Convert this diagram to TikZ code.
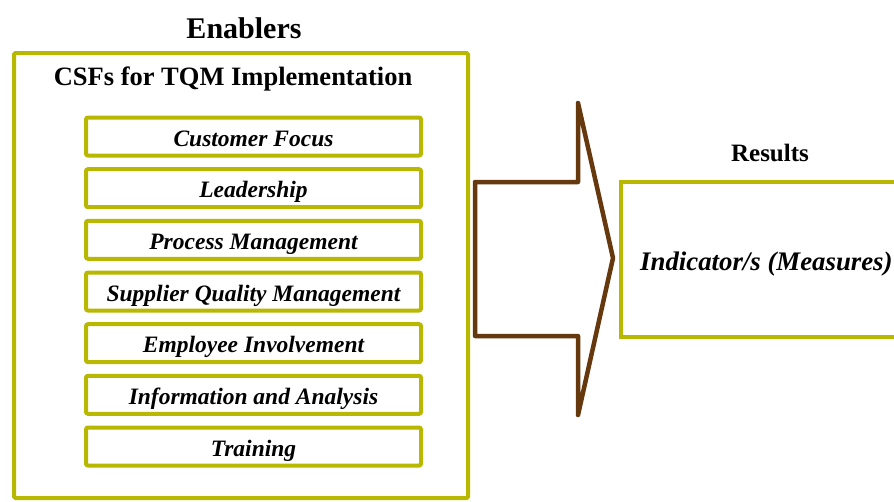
\documentclass[tikz,border=0pt]{standalone}
\usepackage{fontspec}
\setmainfont{Liberation Serif}
\definecolor{olive}{RGB}{184,184,0}
\definecolor{brownarrow}{RGB}{102,56,14}
\tikzset{
  outerbox/.style={draw=olive, line width=4pt, rounded corners=1.5pt, inner sep=0pt},
  csfbox/.style={draw=olive, line width=4pt, rounded corners=2pt, minimum width=335pt, minimum height=38pt, inner sep=0pt,
    text height=19pt, text depth=0pt,
    font=\fontsize{23.5}{26}\selectfont\bfseries\itshape},
  titletext/.style={font=\fontsize{30}{32}\selectfont\bfseries, inner sep=0pt, anchor=base},
  subtitle/.style={font=\fontsize{26.5}{28}\selectfont\bfseries, inner sep=0pt, anchor=base},
  restitle/.style={font=\fontsize{25}{27}\selectfont\bfseries, inner sep=0pt, anchor=base},
  resbox/.style={draw=olive, line width=4pt, inner sep=0pt},
  bigarrow/.style={draw=brownarrow, line width=4.5pt, line join=round, line cap=round}
}
\begin{document}
\begin{tikzpicture}[x=1pt,y=-1pt]
\clip (0,0) rectangle (894,501);
\fill[white] (0,0) rectangle (894,501);
\node[titletext] (enablers) at (244,38) {Enablers};
\node[outerbox, minimum width=454pt, minimum height=445pt] (outer) at (241,275.5) {};
\node[subtitle] (csf) at (233,85) {CSFs for TQM Implementation};
\node[csfbox] (b1) at (253.5,136.5) {Customer Focus};
\node[csfbox] (b2) at (253.5,188.2) {Leadership};
\node[csfbox] (b3) at (253.5,239.8) {Process Management};
\node[csfbox] (b4) at (253.5,291.5) {Supplier Quality Management};
\node[csfbox] (b5) at (253.5,343.2) {Employee Involvement};
\node[csfbox] (b6) at (253.5,394.8) {Information and Analysis};
\node[csfbox] (b7) at (253.5,446.5) {Training};
% big arrow
\coordinate (a1) at (475,182);
\coordinate (a2) at (578,182);
\coordinate (a3) at (578,103);
\coordinate (tip) at (613,258);
\coordinate (a5) at (578,415);
\coordinate (a6) at (578,336);
\coordinate (a7) at (475,336);
\draw[bigarrow] (a1) -- (a2) -- (a3) -- (tip) -- (a5) -- (a6) -- (a7) -- cycle;
% results
\node[restitle] (results) at (770,161.5) {Results};
\node[resbox, minimum width=340pt, minimum height=155pt, anchor=west] (res) at (619,259.5) {};
\node[font=\fontsize{26.8}{28}\selectfont\bfseries\itshape, inner sep=0pt, anchor=base west] (ind) at (640,270) {Indicator/s (Measures)};
\end{tikzpicture}
\end{document}
